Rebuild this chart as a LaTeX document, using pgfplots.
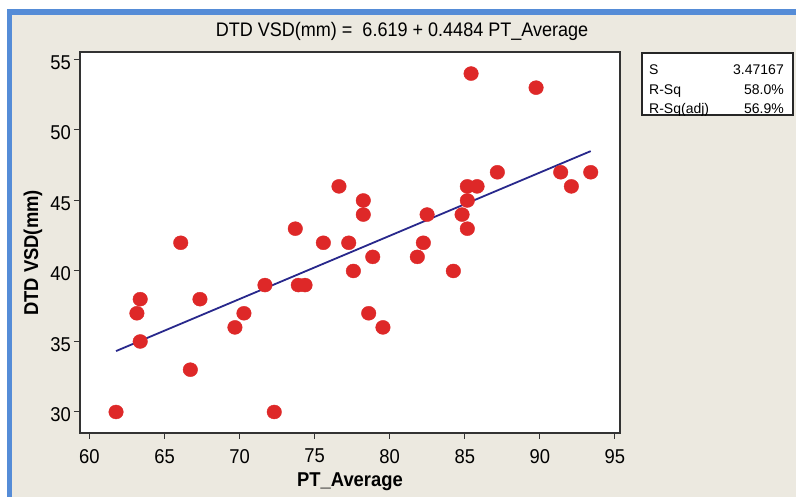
\documentclass[border=0pt]{standalone}
\usepackage{pgfplots}
\pgfplotsset{compat=1.18}
\usepackage{fontspec}
\setmainfont{Liberation Sans}
\newfontfamily\cfont{Liberation Sans}[FakeStretch=0.92]
\definecolor{bgbeige}{RGB}{236,233,224}
\definecolor{frameblue}{RGB}{85,140,215}
\definecolor{ptred}{RGB}{222,40,40}
\definecolor{fitnavy}{RGB}{40,40,140}
\begin{document}
\begin{tikzpicture}[x=1pt,y=1pt]
\fill[white] (0,0) rectangle (796,497);
\fill[bgbeige] (12,0) rectangle (796,482);
\fill[frameblue] (7,0) rectangle (12,488);
\fill[frameblue] (7,482) rectangle (796,488);
\begin{axis}[
  name=ax,
  at={(80pt,64pt)}, anchor=south west,
  scale only axis, width=540pt, height=381pt,
  xmin=59.37, xmax=95.34, ymin=28.51, ymax=55.53,
  xtick={60,65,...,95}, ytick={30,35,...,55},
  tick align=outside, xtick pos=left, ytick pos=left,
  major tick length=6pt,
  axis line style={draw=black!80, line width=1.3pt},
  every tick/.style={black!80, line width=1pt},
  axis background/.style={fill=white},
  tick label style={font=\cfont\fontsize{20}{24}\selectfont},
  /pgf/number format/assume math mode=true,
  xticklabel style={inner sep=0pt, yshift=-10pt},
  yticklabel style={inner sep=0pt, xshift=-3pt, yshift=-3pt},
  clip=false,
]
\addplot[only marks, mark=*, mark size=7pt, ptred, mark options={draw=none, fill=ptred, xscale=1.04}] coordinates {
(61.77,30) (63.38,38) (63.16,37) (63.38,35) (66.08,42) (66.72,33) (67.36,38)
(69.69,36) (70.29,37) (71.69,39) (72.31,30) (73.71,43) (73.91,39) (74.36,39)
(75.58,42) (76.62,46) (78.24,45) (78.24,44) (77.27,42) (78.87,41) (77.58,40)
(78.60,37) (79.55,36) (82.49,44) (82.24,42) (81.84,41) (84.24,40) (84.82,44)
(85.17,45) (85.17,46) (85.82,46) (85.17,43) (87.17,47) (85.42,54) (89.75,53)
(91.39,47) (93.39,47) (92.10,46)
};
\addplot[fitnavy, line width=1.8pt] coordinates {(61.77,34.32) (93.39,48.50)};
\end{axis}
\node[anchor=base, font=\cfont\fontsize{19.6}{24}\selectfont] at (402,460) {DTD VSD(mm) =\ \ 6.619 + 0.4484 PT\_Average};
\node[anchor=base, font=\cfont\bfseries\fontsize{20}{24}\selectfont] at (350,10) {PT\_Average};
\node[rotate=90, anchor=center, font=\cfont\bfseries\fontsize{20}{24}\selectfont] at (33,244) {DTD VSD(mm)};
\draw[black!85, line width=1.2pt, fill=white] (642,382) rectangle (793,444);
\begin{scope}[font=\fontsize{14}{16}\selectfont]
\node[anchor=base west, inner sep=0pt] at (649,422) {S};
\node[anchor=base east, inner sep=0pt] at (784,422) {3.47167};
\node[anchor=base west, inner sep=0pt] at (649,402) {R-Sq};
\node[anchor=base east, inner sep=0pt] at (784,402) {58.0\%};
\node[anchor=base west, inner sep=0pt] at (649,383) {R-Sq(adj)};
\node[anchor=base east, inner sep=0pt] at (784,383) {56.9\%};
\end{scope}
\end{tikzpicture}
\end{document}
